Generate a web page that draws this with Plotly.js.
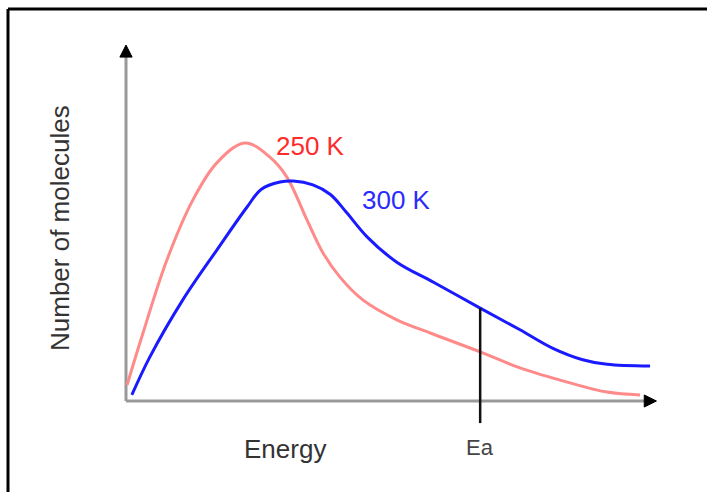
<!DOCTYPE html>
<html>
<head>
<meta charset="utf-8">
<script src="https://cdn.plot.ly/plotly-3.0.1.min.js"></script>
<style>html,body{margin:0;padding:0;background:#fff;}#chart{width:707px;height:492px;}</style>
</head>
<body>
<div id="chart"></div>
<script>
// Energy (0–100, arbitrary) and number of molecules (0–100, arbitrary)
var energy250 = [0.2, 3.2, 7.7, 12.6, 17.1, 22.4, 27.1, 30.3, 34.1, 37.1, 40.3, 44.6, 51.0, 57.3, 66.7, 74.2, 83.6, 90.6, 96.8];
var count250  = [4.5, 19.1, 39.6, 56.5, 66.9, 72.5, 68.5, 62.9, 50.8, 41.6, 34.8, 28.4, 22.8, 19.1, 13.8, 9.3, 5.1, 2.5, 1.7];
var energy300 = [1.1, 4.5, 10.7, 17.1, 22.8, 25.5, 29.0, 31.5, 35.2, 38.5, 41.5, 45.4, 51.0, 58.0, 66.7, 74.2, 80.4, 86.0, 90.6, 98.7];
var count300  = [1.7, 12.4, 28.4, 42.4, 54.5, 59.5, 61.5, 61.8, 60.7, 58.0, 53.0, 46.1, 39.0, 33.3, 26.1, 20.0, 14.8, 11.6, 10.3, 9.8];
var eaEnergy = [66.7, 66.7];
var eaCount  = [-6.2, 26.1];
var seriesNames = ["250 K", "300 K"];
var axisTitles = {x: "Energy", y: "Number of molecules"};
var eaLabel = "Ea";

var W = 707, H = 492;
function px(x){ return x / W; }
function py(y){ return 1 - y / H; }

var traces = [
  {x: energy250, y: count250, mode: "lines", line: {color: "#ff8a8a", width: 3, shape: "spline", smoothing: 1}, name: seriesNames[0], hoverinfo: "skip"},
  {x: energy300, y: count300, mode: "lines", line: {color: "#1a1aff", width: 3, shape: "spline", smoothing: 1}, name: seriesNames[1], hoverinfo: "skip"},
  {x: eaEnergy, y: eaCount, mode: "lines", line: {color: "#111", width: 2.5}, name: eaLabel, hoverinfo: "skip"}
];

var font = "'Liberation Sans', Arial, sans-serif";
var layout = {
  width: W, height: H,
  margin: {l: 0, r: 0, t: 0, b: 0},
  paper_bgcolor: "#fff", plot_bgcolor: "#fff",
  showlegend: false,
  xaxis: {range: [-23.73, 109.42], visible: false, fixedrange: true},
  yaxis: {range: [-25.56, 112.64], visible: false, fixedrange: true},
  shapes: [
    {type: "line", xref: "paper", yref: "paper", x0: px(8), x1: px(720), y0: py(9), y1: py(9), line: {color: "#000", width: 3}},
    {type: "line", xref: "paper", yref: "paper", x0: px(8), x1: px(8), y0: py(9), y1: py(500), line: {color: "#000", width: 3}},
    {type: "line", xref: "x", yref: "y", x0: 0, x1: 0, y0: 0, y1: 97, line: {color: "#999", width: 3}, layer: "below"},
    {type: "line", xref: "x", yref: "y", x0: 0, x1: 98, y0: 0, y1: 0, line: {color: "#999", width: 3}, layer: "below"},
    {type: "path", xref: "x", yref: "y", path: "M -1.15 96.6 L 0 100 L 1.15 96.6 Z", fillcolor: "#000", line: {color: "#000", width: 1}},
    {type: "path", xref: "x", yref: "y", path: "M 97.6 -1.7 L 99.9 0 L 97.6 1.7 Z", fillcolor: "#000", line: {color: "#000", width: 1}}
  ],
  annotations: [
    {xref: "paper", yref: "paper", x: px(285), y: py(449), text: axisTitles.x, showarrow: false, xanchor: "center", yanchor: "middle", font: {family: font, size: 26, color: "#333"}},
    {xref: "paper", yref: "paper", x: px(60), y: py(228), text: axisTitles.y, textangle: -90, showarrow: false, xanchor: "center", yanchor: "middle", font: {family: font, size: 26, color: "#333"}},
    {xref: "paper", yref: "paper", x: px(310), y: py(146), text: seriesNames[0], showarrow: false, xanchor: "center", yanchor: "middle", font: {family: font, size: 26, color: "#ff2a2a"}},
    {xref: "paper", yref: "paper", x: px(397), y: py(200), text: seriesNames[1], showarrow: false, xanchor: "center", yanchor: "middle", font: {family: font, size: 26, color: "#2a2aff"}},
    {xref: "paper", yref: "paper", x: px(480), y: py(447), text: eaLabel, showarrow: false, xanchor: "center", yanchor: "middle", font: {family: font, size: 22, color: "#444"}}
  ]
};

Plotly.newPlot("chart", traces, layout, {displayModeBar: false, staticPlot: true});
</script>
</body>
</html>
